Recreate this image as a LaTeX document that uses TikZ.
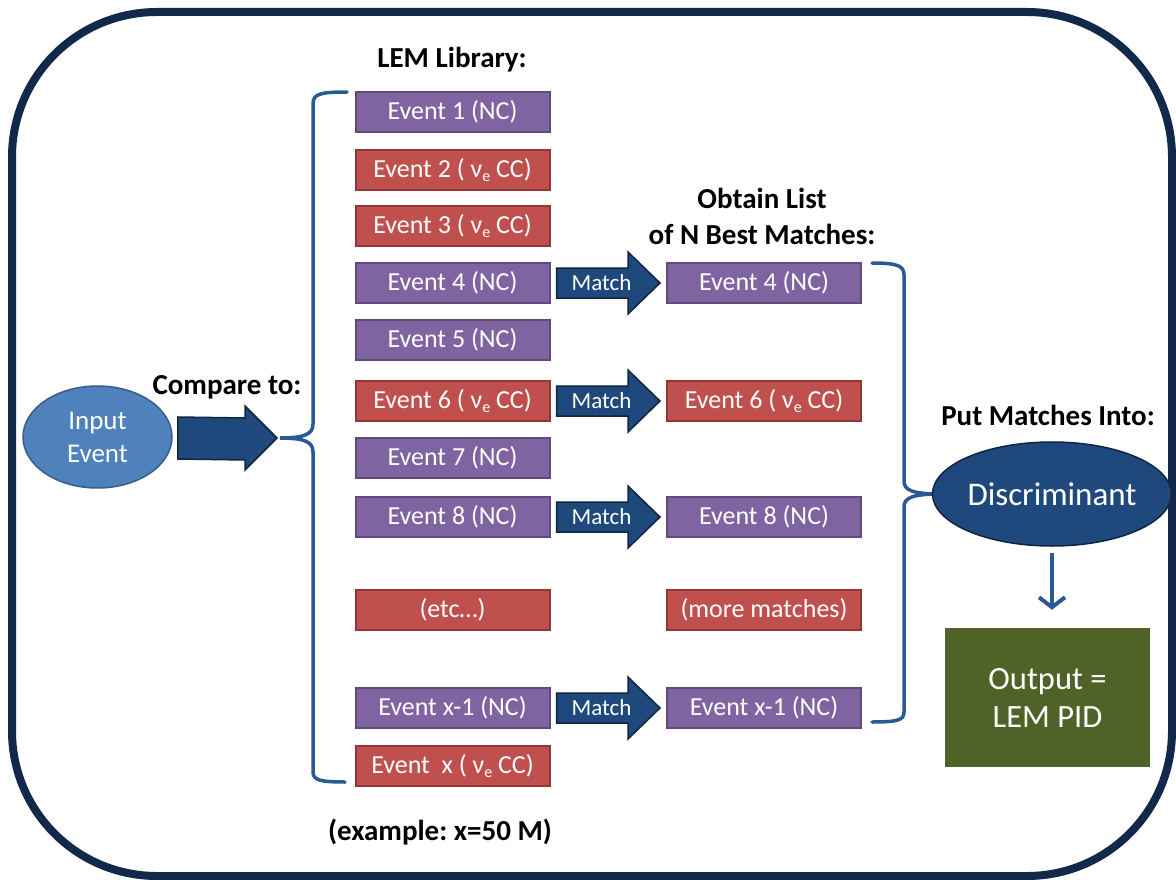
\documentclass[tikz,border=0pt]{standalone}
\usepackage{fontspec}
\setmainfont{Carlito}
\usetikzlibrary{calc,arrows.meta,shapes.geometric}
\definecolor{frame}{HTML}{13294B}
\definecolor{purpfill}{HTML}{8064A2}
\definecolor{purpline}{HTML}{5F4A7B}
\definecolor{redfill}{HTML}{C0504D}
\definecolor{redline}{HTML}{943634}
\definecolor{navy}{HTML}{1F497D}
\definecolor{navyline}{HTML}{10253F}
\definecolor{lightblue}{HTML}{4F81BD}
\definecolor{lightblueline}{HTML}{385D8A}
\definecolor{bracecol}{HTML}{2A5A95}
\definecolor{olive}{HTML}{4F6228}
\newcommand{\nue}{ν\raisebox{-0.35ex}{\fontsize{16}{16}\selectfont e}}
\frenchspacing
\tikzset{
  evbox/.style={draw, line width=2, minimum width=194, minimum height=40, inner sep=0,
    text=white, font=\fontsize{26}{30}\selectfont},
  nc/.style={evbox, fill=purpfill, draw=purpline},
  cc/.style={evbox, fill=redfill, draw=redline},
  matcharr/.style={fill=navy, draw=navyline, line width=1.5, line join=miter},
  bracestyle/.style={draw=bracecol, line width=3.5, line cap=round},
  lbl/.style={font=\fontsize{29}{33}\selectfont\bfseries, text=black, align=center},
}
\begin{document}
\begin{tikzpicture}[x=1pt, y=-1pt]
\useasboundingbox (0,0) rectangle (1176,880);
\draw[frame, line width=8, rounded corners=145] (12,12) rectangle (1172,876);

% labels
\node[lbl] (tlem) at (452,60) {LEM Library:};
\node[lbl, font=\fontsize{29}{36}\selectfont\bfseries] (tobt) at (762,216) {Obtain List\\of N Best Matches:};
\node[lbl] (tcmp) at (227,387) {Compare to:};
\node[lbl] (tput) at (1048,415) {Put Matches Into:};
\node[lbl] (tex) at (440,832) {(example: x=50 M)};

% library boxes
\node[nc] (l1) at (452.5,112) {Event 1 (NC)};
\node[cc] (l2) at (452.5,170) {Event 2 ( \nue{} CC)};
\node[cc] (l3) at (452.5,226) {Event 3 ( \nue{} CC)};
\node[nc] (l4) at (452.5,283) {Event 4 (NC)};
\node[nc] (l5) at (452.5,340) {Event 5 (NC)};
\node[cc] (l6) at (452.5,401) {Event 6 ( \nue{} CC)};
\node[nc] (l7) at (452.5,458) {Event 7 (NC)};
\node[nc] (l8) at (452.5,517) {Event 8 (NC)};
\node[cc] (letc) at (452.5,610) {(etc…)};
\node[nc] (lx1) at (452.5,708) {Event x-1 (NC)};
\node[cc] (lx) at (452.5,766) {Event \ x ( \nue{} CC)};

% matches
\node[nc] (r4) at (764,283) {Event 4 (NC)};
\node[cc] (r6) at (764,401) {Event 6 ( \nue{} CC)};
\node[nc] (r8) at (764,517) {Event 8 (NC)};
\node[cc] (rmore) at (764,610) {(more matches)};
\node[nc] (rx1) at (764,708) {Event x-1 (NC)};

% match arrows
\foreach \a/\b in {l4/r4, l6/r6, l8/r8, lx1/rx1}{
  \draw[matcharr] ($(\a.east)+(6,-15)$) -- ($(\b.west)+(-38,-15)$) -- ($(\b.west)+(-38,-31)$)
     -- ($(\b.west)+(-6,0)$) -- ($(\b.west)+(-38,31)$) -- ($(\b.west)+(-38,15)$)
     -- ($(\a.east)+(6,15)$) -- cycle;
  \node[text=white, font=\fontsize{23}{26}\selectfont] at ($(\a.east)+(51,0)$) {Match};
}

% input event
\node[ellipse, fill=lightblue, draw=lightblueline, line width=1.5, minimum width=149, minimum height=102,
  inner sep=0, text=white, align=center, font=\fontsize{27}{33}\selectfont] (inp) at (97.5,437) {Input\\Event};

% left brace
\coordinate (lbtip) at (280,438);
\draw[bracestyle] (347,92) .. controls (320,92) and (313,94) .. (313,104)
  -- (313,424) .. controls (313,434) and (305,438) .. (lbtip)
  .. controls (305,438) and (313,442) .. (313,452)
  -- (313,772) .. controls (313,780) and (320,782) .. (345,782);

% compare arrow
\draw[matcharr] ($(inp.east)+(5,-20)$) -- ($(lbtip)+(-35,-20)$) -- ($(lbtip)+(-35,-32)$)
  -- ($(lbtip)+(-3,0)$) -- ($(lbtip)+(-35,32)$) -- ($(lbtip)+(-35,22)$) -- ($(inp.east)+(5,22)$) -- cycle;

% right brace
\coordinate (rbtip) at (940,494);
\draw[bracestyle] (872,263) .. controls (898,263) and (904,266) .. (904,275)
  -- (904,481) .. controls (904,490) and (912,494) .. (rbtip)
  .. controls (912,494) and (904,498) .. (904,507)
  -- (904,712) .. controls (904,720) and (898,722) .. (872,722);

% discriminant
\node[ellipse, fill=navy, draw=navyline, line width=1.5, minimum width=214, minimum height=104,
  inner sep=0, text=white, font=\fontsize{33}{38}\selectfont] (disc) at (1052,494) {Discriminant};

% output
\node[fill=olive, minimum width=205, minimum height=139, inner sep=0, text=white, align=center,
  font=\fontsize{32.5}{38}\selectfont] (out) at (1047.5,697.5) {Output =\\LEM PID};

\draw[bracecol, line width=4, -{Straight Barb[length=10,width=26,line width=4]},
  shorten <=6, shorten >=18] (disc.south) -- (out.north -| disc.south);
\end{tikzpicture}
\end{document}
